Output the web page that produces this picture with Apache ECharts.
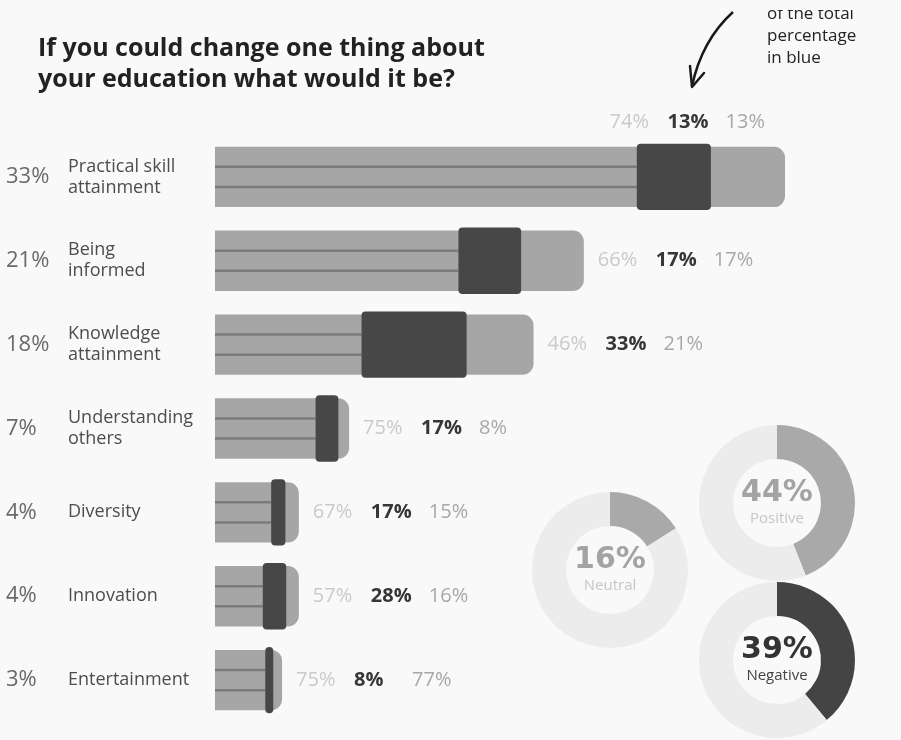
<!DOCTYPE html>
<html><head><meta charset="utf-8">
<script src="https://cdn.jsdelivr.net/npm/echarts@6/dist/echarts.min.js"></script>
<style>html,body{margin:0;padding:0;background:#f9f9f9}#c{width:901px;height:740px}</style>
</head><body><div id="c"></div>
<script>
const categories = ['Practical skill\nattainment', 'Being\ninformed', 'Knowledge\nattainment', 'Understanding\nothers', 'Diversity', 'Innovation', 'Entertainment'];
const totals = [33, 21, 18, 7, 4, 4, 3];
const firstShare = [74, 66, 46, 75, 67, 57, 75];
const secondShare = [13, 17, 33, 17, 17, 28, 8];
const thirdShare = [13, 17, 21, 8, 15, 16, 77];
const sentimentNames = ['Positive', 'Neutral', 'Negative'];
const sentimentValues = [44, 16, 39];
const titleText = 'If you could change one thing about\nyour education what would it be?';
const noteText = 'of the total\npercentage\nin blue';

const AXIS_MIN = -1;
const BG = '#f9f9f9';
const FONT = '"Open Sans", "Noto Sans", sans-serif';

const chart = echarts.init(document.getElementById('c'));

function renderBar(params, api) {
  const total = api.value(0);
  const cat = api.value(1);
  const p1 = api.value(2), p2 = api.value(3), p3 = api.value(4);
  const s = api.coord([AXIS_MIN, cat]);
  const e = api.coord([total, cat]);
  const band = api.size([0, 1])[1];
  const h = band * 0.72;
  const cy = s[1];
  const w = e[0] - s[0];
  const dStart = s[0] + w * p1 / 100;
  const dW = Math.max(w * p2 / 100, 8);
  const children = [
    { type: 'rect', shape: { x: s[0], y: cy - h / 2, width: w, height: h, r: [0, 11, 11, 0] }, style: { fill: '#a6a6a6' } },
    { type: 'line', shape: { x1: s[0], y1: cy - h / 6, x2: dStart, y2: cy - h / 6 }, style: { stroke: '#7b7b7b', lineWidth: 2.5 } },
    { type: 'line', shape: { x1: s[0], y1: cy + h / 6, x2: dStart, y2: cy + h / 6 }, style: { stroke: '#7b7b7b', lineWidth: 2.5 } },
    { type: 'rect', shape: { x: dStart, y: cy - h / 2 - 3, width: dW, height: h + 6, r: 4 }, style: { fill: '#474747' } }
  ];
  const txt = '{a|' + p1 + '%}{b|' + p2 + '%}{c|' + p3 + '%}';
  const rich = {
    a: { fontSize: 20, fill: '#cacaca', fontFamily: FONT, width: 58, align: 'left' },
    b: { fontSize: 20, fill: '#363636', fontWeight: 'bold', fontFamily: FONT, width: 58, align: 'left' },
    c: { fontSize: 20, fill: '#a8a8a8', fontFamily: FONT, align: 'left' }
  };
  const gridRight = params.coordSys.x + params.coordSys.width;
  const above = e[0] + 175 > gridRight;
  children.push({
    type: 'text',
    style: above
      ? { x: e[0] - 20, y: cy - h / 2 - 24, text: txt, rich: rich, align: 'right', verticalAlign: 'middle', fontFamily: FONT, fontSize: 20 }
      : { x: e[0] + 14, y: cy, text: txt, rich: rich, align: 'left', verticalAlign: 'middle', fontFamily: FONT, fontSize: 20 }
  });
  return { type: 'group', children: children };
}

const barData = categories.map((c, i) => [totals[i], i, firstShare[i], secondShare[i], thirdShare[i]]);

const pieCenters = [[777, 503], [610, 570], [777, 660]];
const segColors = ['#a9a9a9', '#a9a9a9', '#444444'];
const valueColors = ['#a3a3a3', '#a3a3a3', '#333333'];
const nameColors = ['#c6c6c6', '#c6c6c6', '#444444'];

const pies = sentimentNames.map((n, i) => ({
  type: 'pie',
  center: pieCenters[i],
  radius: [44, 78],
  startAngle: 90,
  clockwise: true,
  silent: true,
  emphasis: { disabled: true },
  labelLine: { show: false },
  label: {
    show: true, position: 'center',
    formatter: '{v|' + sentimentValues[i] + '%}\n{n|' + n + '}',
    rich: {
      v: { fontSize: 30, fontWeight: 'bold', color: valueColors[i], fontFamily: '"DejaVu Sans", sans-serif', lineHeight: 32 },
      n: { fontSize: 15, color: nameColors[i], fontFamily: FONT, lineHeight: 20 }
    }
  },
  data: [
    { value: sentimentValues[i], name: n, itemStyle: { color: segColors[i] } },
    { value: 100 - sentimentValues[i], name: n + ' rest', itemStyle: { color: '#ececec' }, label: { show: false } }
  ]
}));

chart.setOption({
  backgroundColor: BG,
  animation: false,
  title: {
    text: titleText, left: 33, top: 28,
    textStyle: { fontSize: 25, fontWeight: 'bold', color: '#222', fontFamily: FONT, lineHeight: 31 }
  },
  grid: { left: 215, right: 116, top: 135, bottom: 18 },
  xAxis: { type: 'value', min: AXIS_MIN, max: 33, show: false },
  yAxis: [
    {
      type: 'category', data: categories, inverse: true,
      axisLine: { show: false }, axisTick: { show: false },
      axisLabel: { align: 'left', margin: 147, fontSize: 18, color: '#4d4d4d', fontFamily: FONT, lineHeight: 21 }
    },
    {
      type: 'category', data: categories, inverse: true, position: 'left',
      axisLine: { show: false }, axisTick: { show: false },
      axisLabel: { align: 'left', margin: 209, fontSize: 22, color: '#6a6a6a', fontFamily: FONT,
        formatter: (v, i) => totals[i] + '%' }
    }
  ],
  graphic: [
    { type: 'text', x: 767, y: 3, style: { text: noteText, fontSize: 17, lineHeight: 22, fill: '#222', fontFamily: FONT } },
    { type: 'rect', shape: { x: 0, y: 0, width: 901, height: 10 }, style: { fill: BG }, z: 100 },
    { type: 'bezierCurve', shape: { x1: 733, y1: 12, cpx1: 702, cpy1: 40, x2: 692, y2: 86 }, style: { stroke: '#1a1a1a', lineWidth: 2.5, fill: null } },
    { type: 'polyline', shape: { points: [[690, 66], [692, 87], [704, 73]] }, style: { stroke: '#1a1a1a', lineWidth: 2.5, fill: null, lineJoin: 'round', lineCap: 'round' } }
  ],
  series: [
    { type: 'custom', renderItem: renderBar, encode: { x: 0, y: 1 }, data: barData, silent: true }
  ].concat(pies)
});
</script></body></html>
